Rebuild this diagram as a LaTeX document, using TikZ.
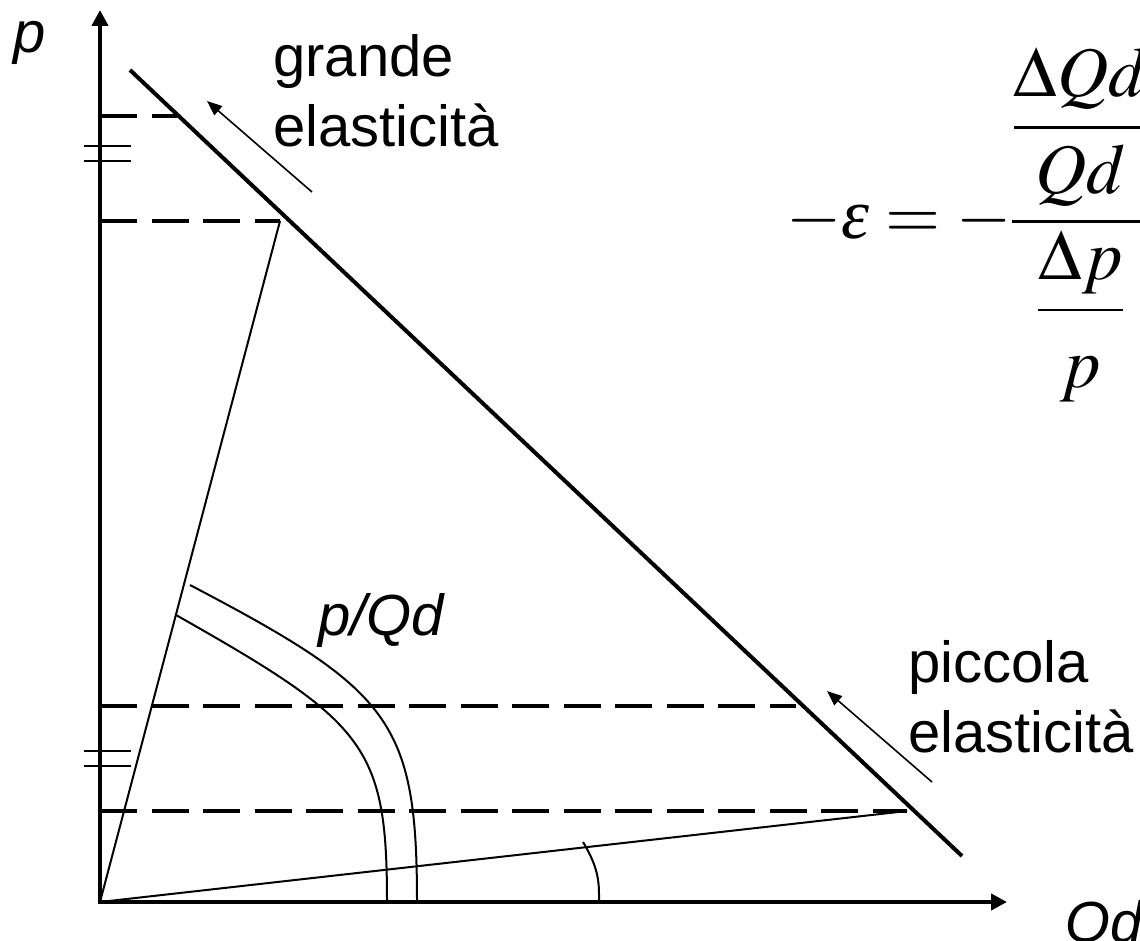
\documentclass[tikz,border=0pt]{standalone}
\usepackage{amsmath}
\usepackage{mathptmx}
\usepackage[no-math]{fontspec}
\setmainfont{Liberation Sans}
\newfontfamily\serifit{Liberation Serif}[ItalicFont={Liberation Serif Italic}]
\usepackage{tikz}
\usetikzlibrary{arrows.meta}
\tikzset{
  >={Triangle[length=16pt,width=16pt]},
  axisline/.style={<->,line width=4pt},
  demand/.style={line width=4pt},
  guide/.style={line width=4pt,dash pattern=on 37pt off 14.5pt},
  ray/.style={line width=2pt},
  tickmark/.style={line width=2pt},
  hint/.style={-{Triangle[length=15pt,width=12pt]},line width=1.6pt},
  lab/.style={font=\fontsize{58}{70}\selectfont,inner sep=0pt},
}
\begin{document}
\begin{tikzpicture}[x=1pt,y=-1pt]
\useasboundingbox (0,0) rectangle (1140,941);
\coordinate (O) at (100,902);
\coordinate (ptip) at (100,10);
\coordinate (qtip) at (1007,902);
\coordinate (dA) at (130,70);
\coordinate (dB) at (962,856);
\coordinate (h1) at (177,116);
\coordinate (h2) at (280,221);
\coordinate (h3) at (796,705.5);
\coordinate (h4) at (907,811);
\draw[axisline] (ptip) |- (qtip);
\draw[demand] (dA) -- (dB);
\foreach \h in {h1,h2,h3,h4}
  \draw[guide] (O |- \h) -- (\h);
\draw[ray] (O) -- (h2);
\draw[ray] (O) -- (h4);
\foreach \y in {146,161,751,766}
  \draw[tickmark] (84,\y) -- (131,\y);
\draw[ray] (190,585) .. controls (390,690) and (417,720) .. (417,902);
\draw[ray] (176,615) .. controls (365,722) and (387,745) .. (387,902);
\draw[ray] (583,842) .. controls (600,870) and (599,885) .. (599,902);
\draw[hint] (312,192) -- (207,101);
\draw[hint] (932,782) -- (827,691);
\node[lab,anchor=base west] (plab) at (13,53) {\textit{p}};
\node[lab,anchor=base west] (qlab) at (1065,942) {\textit{Qd}};
\node[lab,anchor=north west,align=left] (big) at (273,34) {grande\\elasticità};
\node[lab,anchor=north west,align=left] (small) at (908,640) {piccola\\elasticità};
\node[lab,anchor=base west] (ratio) at (318,635) {\textit{p/Qd}};
\node[anchor=base west,inner sep=0pt,font=\fontsize{71}{80}\selectfont] (eps) at (786,239)
  {$-\mbox{\serifit\itshape ε}=-\dfrac{\dfrac{\Delta Qd}{Qd\rule[-0.25em]{0pt}{0.25em}}}{\dfrac{\Delta p}{\rule{0pt}{0.95em}p}}$};
\end{tikzpicture}
\end{document}
